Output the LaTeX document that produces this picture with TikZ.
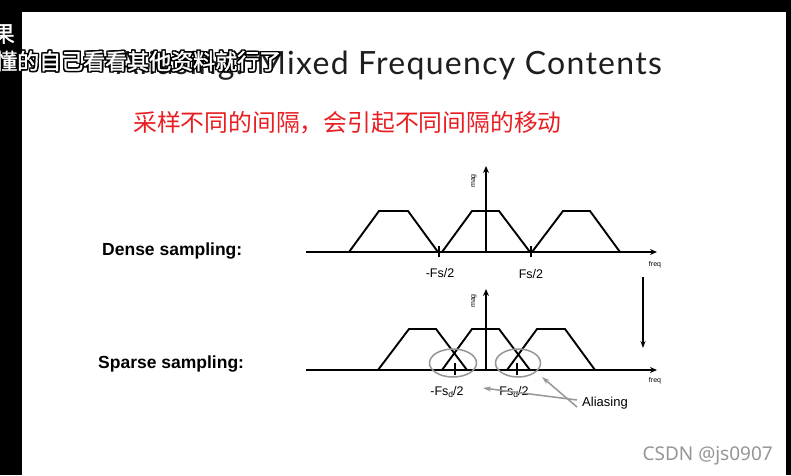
\documentclass[tikz,border=0pt]{standalone}
\usepackage{fontspec}
\setmainfont{Liberation Sans}
\newfontfamily\cjk{Noto Sans CJK SC}
\newfontfamily\cjkb[FakeBold=1.5]{Noto Sans CJK SC}
\newfontfamily\titlef[LetterSpace=4]{Lato}
\newfontfamily\wmf{Noto Sans}
\usetikzlibrary{arrows.meta}
\definecolor{redtxt}{RGB}{232,30,35}
\definecolor{circgray}{RGB}{150,150,150}
\definecolor{wmgray}{RGB}{150,150,150}
\definecolor{titlegray}{RGB}{30,30,30}
\begin{document}
\begin{tikzpicture}[x=1pt,y=-1pt,
  curve/.style={line width=1.9pt, line join=miter},
  axisline/.style={line width=1.9pt,-{Stealth[length=7pt,width=6pt]}},
  tickline/.style={line width=1.8pt},
  axlabel/.style={inner sep=0pt, font=\fontsize{7}{7}\selectfont},
  fslabel/.style={inner sep=0pt, font=\fontsize{12.5}{12.5}\selectfont},
  rowlabel/.style={inner sep=0pt, anchor=west, font=\fontsize{17.5}{17.5}\selectfont\bfseries},
  aliasarrow/.style={circgray, line width=1.5pt, -{Stealth[length=8pt,width=5pt]}},
  aliascirc/.style={circgray, line width=1.5pt},
  subt/.style={inner sep=0pt, font=\cjkb\fontsize{22}{22}\selectfont},
]
\useasboundingbox (0,0) rectangle (791,475);
\clip (0,0) rectangle (791,475);
\fill[white] (0,0) rectangle (791,475);

% title
\node[inner sep=0pt, anchor=base east, text=titlegray, font=\titlef\fontsize{32}{32}\selectfont] (title) at (662,74) {Aliasing: Mixed Frequency Contents};

% red subtitle
\node[inner sep=0pt, anchor=west, text=redtxt, font=\cjk\fontsize{23.8}{24}\selectfont] (redline) at (133,123) {采样不同的间隔，会引起不同间隔的移动};

% row labels
\node[rowlabel] (dense) at (102,251) {Dense sampling:};
\node[rowlabel] (sparse) at (98,364) {Sparse sampling:};

% ---------- dense sampling ----------
\coordinate (d0) at (306,252);
\coordinate (d1) at (657,252);
\coordinate (dv0) at (486,252);
\coordinate (dv1) at (486,166);
\draw[axisline] (d0) -- (d1);
\draw[axisline] (dv0) -- (dv1);
\draw[curve] (349,252) -- (379,211) -- (408,211) -- (438,252);
\draw[curve] (442,252) -- (472,211) -- (499,211) -- (530,252);
\draw[curve] (532,252) -- (563,211) -- (590,211) -- (620,252);
\coordinate (dt1) at (439,252);
\coordinate (dt2) at (531,252);
\draw[tickline] ([yshift=-5pt]dt1) -- ([yshift=6pt]dt1);
\draw[tickline] ([yshift=-5pt]dt2) -- ([yshift=6pt]dt2);
\node[axlabel, rotate=90] (dmag) at (474,181) {mag};
\node[axlabel] (dfreq) at (655,265) {freq};
\node[fslabel] (dneg) at (440,273) {-Fs/2};
\node[fslabel] (dpos) at (531,274) {Fs/2};

% ---------- transition arrow ----------
\coordinate (ta) at (643,277);
\coordinate (tb) at (643,348);
\draw[line width=1.6pt, -{Stealth[length=7pt,width=5pt]}] (ta) -- (tb);

% ---------- sparse sampling ----------
\coordinate (s0) at (306,370);
\coordinate (s1) at (657,370);
\coordinate (sv0) at (486,370);
\coordinate (sv1) at (486,289);
\draw[axisline] (s0) -- (s1);
\draw[axisline] (sv0) -- (sv1);
\draw[curve] (378,370) -- (409,329) -- (436,329) -- (467,370);
\draw[curve] (442,370) -- (472,329) -- (499,329) -- (530,370);
\draw[curve] (507,370) -- (537,329) -- (565,329) -- (595,370);
\coordinate (st1) at (455,370);
\coordinate (st2) at (517,370);
\draw[tickline] ([yshift=-5pt]st1) -- ([yshift=7pt]st1);
\draw[tickline] ([yshift=-5pt]st2) -- ([yshift=7pt]st2);
\node[axlabel, rotate=90] (smag) at (474,301) {mag};
\node[axlabel] (sfreq) at (655,381) {freq};
\node[fslabel] (sneg) at (447,392) {-Fs\raisebox{-2.5pt}{\fontsize{8.5}{8.5}\selectfont d}/2};
\node[fslabel] (spos) at (514,392) {Fs\raisebox{-2.5pt}{\fontsize{8.5}{8.5}\selectfont d}/2};

% aliasing circles
\draw[aliascirc] (453,363) ellipse [x radius=23.5pt, y radius=14pt];
\draw[aliascirc] (518,363) ellipse [x radius=22.5pt, y radius=14pt];
\node[inner sep=0pt, font=\fontsize{13}{13}\selectfont] (alias) at (605,403) {Aliasing};
\coordinate (a1) at (542,377);
\coordinate (a2) at (483,388);
\draw[aliasarrow] ([shift={(-28pt,-4pt)}]alias.center) -- (a1);
\draw[aliasarrow] ([shift={(-28pt,3pt)}]alias.center) -- (a2);

% watermark
\node[inner sep=0pt, anchor=east, text=wmgray, font=\wmf\fontsize{19}{19}\selectfont] (wm) at (773,456) {CSDN @js0907};

% black frame bands
\fill[black] (0,0) rectangle (791,12);
\fill[black] (0,0) rectangle (22,475);
\fill[black] (786,0) rectangle (791,475);

% overlaid video subtitle (white with black outline)
\foreach \dx/\dy in {-1.3/-1.3,-1.3/0,-1.3/1.3,0/-1.3,0/1.3,1.3/-1.3,1.3/0,1.3/1.3} {
  \node[subt, anchor=east, text=black, xshift=\dx pt, yshift=\dy pt] at (15,34) {果};
  \node[subt, anchor=west, text=black, xshift=\dx pt, yshift=\dy pt] at (-5,61) {懂的自己看看其他资料就行了};
}
\node[subt, anchor=east, text=white] (sub1) at (15,34) {果};
\node[subt, anchor=west, text=white] (sub2) at (-5,61) {懂的自己看看其他资料就行了};
\end{tikzpicture}
\end{document}
